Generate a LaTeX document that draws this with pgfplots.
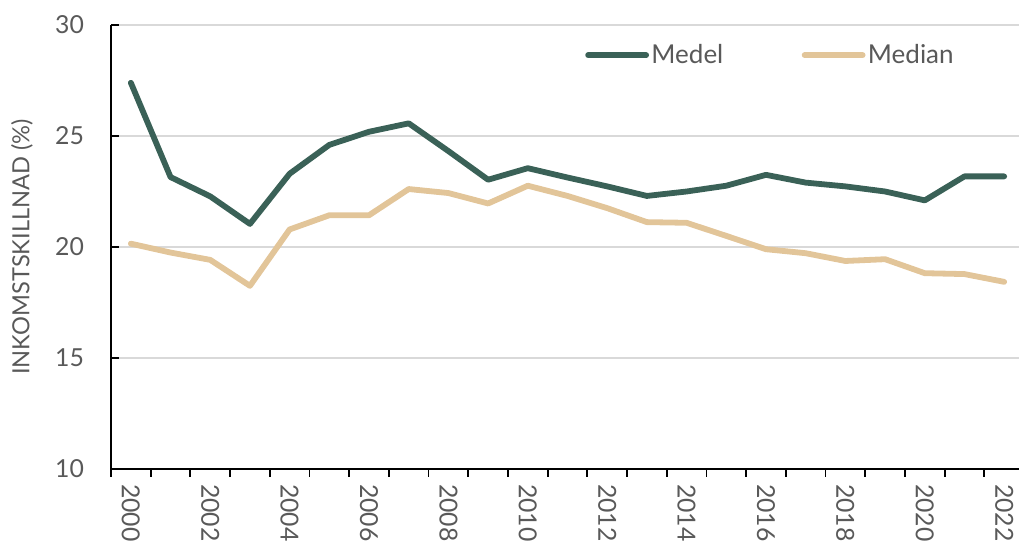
\documentclass[border=0pt]{standalone}
\usepackage{pgfplots}
\pgfplotsset{compat=1.18}
\usepackage{fontspec}
\setmainfont{Lato}
\definecolor{medel}{HTML}{3A6157}
\definecolor{median}{HTML}{E2C599}
\definecolor{txt}{HTML}{595959}
\definecolor{grd}{HTML}{D9D9D9}
\begin{document}
\begin{tikzpicture}
\begin{axis}[
  name=ax,
  scale only axis,
  width=456.5pt, height=222pt,
  xmin=-0.5, xmax=22.5,
  ymin=10, ymax=30,
  ytick={10,15,20,25,30},
  xtick={0,2,...,22},
  xticklabels={2000,2002,2004,2006,2008,2010,2012,2014,2016,2018,2020,2022},
  minor xtick={-0.5,0.5,...,22.5},
  major x tick style={draw=none},
  minor x tick style={black, line width=0.9pt, yshift=-4pt},
  minor tick length=4pt,
  major tick length=4pt,
  y tick style={black, line width=0.9pt},
  axis x line*=bottom,
  axis y line*=left,
  axis line style={black, line width=1pt},
  ymajorgrids,
  grid style={grd, line width=1pt},
  tick label style={font=\fontsize{12.4}{14}\selectfont, text=txt},
  /pgf/number format/assume math mode=true,
  yticklabel style={xshift=-10pt},
  xticklabel style={rotate=-90, anchor=west},
  xticklabel shift=4pt,
  ylabel={INKOMSTSKILLNAD (\%)},
  ylabel style={at={(axis description cs:0,0.5)}, anchor=center, yshift=44.5pt, font=\fontsize{11.8}{13}\selectfont, text=txt},
  legend columns=2,
  legend style={at={(rel axis cs:0.519,0.932)}, anchor=west, draw=none, fill=none, inner sep=0pt,
    font=\fontsize{13}{15}\selectfont, text=txt,
    /tikz/every even column/.append style={column sep=38pt},
    nodes={inner sep=1.2pt}},
  legend image code/.code={\draw[#1, line cap=round] (0pt,0pt) -- (29pt,0pt);},
]
\addplot[medel, line width=2.9pt, line join=round, line cap=round] coordinates {
(0,27.4) (1,23.15) (2,22.28) (3,21.04) (4,23.3) (5,24.6) (6,25.19) (7,25.57) (8,24.32) (9,23.03) (10,23.55) (11,23.13) (12,22.73) (13,22.3) (14,22.5) (15,22.76) (16,23.25) (17,22.9) (18,22.73) (19,22.5) (20,22.1) (21,23.18) (22,23.18)
};
\addlegendentry{Medel}
\addplot[median, line width=2.9pt, line join=round, line cap=round] coordinates {
(0,20.15) (1,19.75) (2,19.42) (3,18.25) (4,20.79) (5,21.43) (6,21.43) (7,22.61) (8,22.43) (9,21.96) (10,22.76) (11,22.3) (12,21.75) (13,21.12) (14,21.09) (15,20.5) (16,19.9) (17,19.72) (18,19.37) (19,19.45) (20,18.82) (21,18.78) (22,18.43)
};
\addlegendentry{Median}
\end{axis}
\pgfresetboundingbox
\path[use as bounding box] ([xshift=-55.5pt, yshift=12.5pt]ax.north west) rectangle ([xshift=-2.5pt, yshift=-37.5pt]ax.south east);
\end{tikzpicture}
\end{document}
